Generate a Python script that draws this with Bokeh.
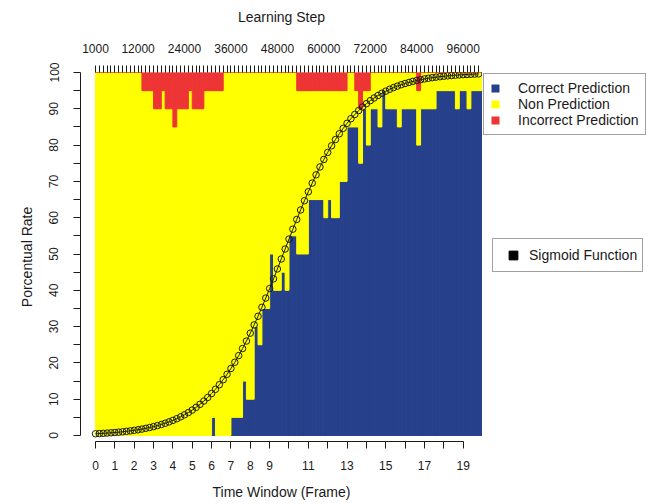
import numpy as np
from bokeh.plotting import figure
from bokeh.layouts import row
from bokeh.models import ColumnDataSource, Range1d, LinearAxis, FixedTicker, Legend, LegendItem
from bokeh.embed import file_html
from bokeh.resources import INLINE

# ---------------- data ----------------
frames = [round(0.2 * i, 1) for i in range(100)]   # time window (frame) of each bar

correct = [0] * 30 + [5, 0, 0, 0, 0, 5, 5, 5, 15, 10,
                      10, 30, 25, 35, 35, 50, 40, 40, 45, 40,
                      55, 55, 50, 50, 50, 65, 65, 65, 65, 60,
                      65, 60, 60, 70, 70, 85, 85, 85, 75, 90,
                      80, 90, 90, 85, 95, 90, 90, 90, 85, 90,
                      90, 90, 90, 80, 90, 90, 90, 90, 95, 95,
                      95, 95, 95, 90, 95, 95, 90, 95, 95, 95]

incorrect = [0] * 12 + [5, 5, 5, 10, 10, 5, 10, 10, 15, 10,
                        10, 10, 5, 10, 10, 10, 5, 5, 5, 5,
                        5] + [0] * 19 + [5] * 13 + [0, 0, 5, 10, 5, 5] + [0] * 12 + [5] + [0] * 16

sigmoid = [0.48, 0.54, 0.60, 0.67, 0.74, 0.83, 0.92, 1.03, 1.15, 1.28,
           1.43, 1.59, 1.77, 1.98, 2.20, 2.45, 2.73, 3.03, 3.37, 3.75,
           4.17, 4.63, 5.14, 5.71, 6.33, 7.01, 7.76, 8.59, 9.49, 10.48,
           11.56, 12.73, 14.00, 15.38, 16.87, 18.47, 20.18, 22.01, 23.96, 26.02,
           28.19, 30.47, 32.85, 35.32, 37.87, 40.49, 43.16, 45.88, 48.63, 51.37,
           54.12, 56.84, 59.51, 62.13, 64.68, 67.15, 69.53, 71.81, 73.98, 76.04,
           77.99, 79.82, 81.53, 83.13, 84.62, 86.00, 87.27, 88.44, 89.52, 90.51,
           91.41, 92.24, 92.99, 93.67, 94.29, 94.86, 95.37, 95.83, 96.25, 96.63,
           96.97, 97.27, 97.55, 97.80, 98.02, 98.23, 98.41, 98.57, 98.72, 98.85,
           98.97, 99.08, 99.17, 99.26, 99.33, 99.40, 99.46, 99.52, 99.57, 99.61]

frame_ticks = list(range(20))
frame_hidden = [10, 12, 14, 16, 18]
step_ticks = list(range(1000, 100001, 1000))
step_labels = [1000, 12000, 24000, 36000, 48000, 60000, 72000, 84000, 96000]
rate_ticks = list(range(0, 101, 5))

series_names = ["Correct Prediction", "Non Prediction", "Incorrect Prediction"]

BLUE = "#27408B"
YELLOW = "#FFFF00"
RED = "#EE3535"
INK = "#1a1a1a"
FONT = "Liberation Sans"

non = [100 - c - r for c, r in zip(correct, incorrect)]
src = ColumnDataSource(dict(x=[f + 0.1 for f in frames], correct=correct, non=non, incorrect=incorrect))

X0, X1 = -0.775, 20.0
p = figure(width=482, height=504, x_range=Range1d(X0, X1), y_range=Range1d(-1.65, 100),
           output_backend="svg", toolbar_location=None,
           x_axis_location=None, y_axis_location=None,
           min_border_left=80, min_border_right=0, min_border_top=72, min_border_bottom=63)
p.outline_line_color = None
p.xgrid.visible = False
p.ygrid.visible = False
p.background_fill_color = "white"

p.vbar_stack(["correct", "non", "incorrect"], x="x", width=0.2, color=[BLUE, YELLOW, RED],
             line_width=1, source=src)

p.line(frames, sigmoid, line_color=INK, line_width=1)
p.scatter(frames, sigmoid, marker="circle", size=6.5, fill_color=None, line_color=INK, line_width=1)

# ---------------- axes ----------------
p.extra_x_ranges = {"steps": Range1d(1000 + 5000 * X0, 1000 + 5000 * X1)}

ax_b = LinearAxis(ticker=FixedTicker(ticks=frame_ticks), bounds=(0, 19), axis_label="Time Window (Frame)")
ax_b.major_label_overrides = {t: ("" if t in frame_hidden else str(t)) for t in frame_ticks}
ax_b.major_label_standoff = 12
ax_b.axis_label_standoff = 11

ax_t = LinearAxis(x_range_name="steps", ticker=FixedTicker(ticks=step_ticks), axis_label="Learning Step")
ax_t.major_label_overrides = {t: (str(t) if t in step_labels else "") for t in step_ticks}
ax_t.axis_line_color = None
ax_t.major_label_standoff = 13
ax_t.axis_label_standoff = 16

ax_l = LinearAxis(ticker=FixedTicker(ticks=rate_ticks), bounds=(0, 100), axis_label="Porcentual Rate",
                  major_label_orientation="vertical")
ax_l.major_label_overrides = {t: ("" if t % 10 else str(t)) for t in rate_ticks}
ax_l.major_label_standoff = 15
ax_l.axis_label_standoff = 12

for ax in (ax_b, ax_t, ax_l):
    ax.major_label_text_font = FONT
    ax.major_label_text_font_size = "12px"
    ax.major_label_text_color = INK
    ax.axis_label_text_font = FONT
    ax.axis_label_text_font_size = "14px"
    ax.axis_label_text_font_style = "normal"
    ax.axis_label_text_color = INK
    ax.major_tick_out = 7
    ax.major_tick_in = 0
    ax.minor_tick_line_color = None
    ax.major_tick_line_color = INK
    if ax is not ax_t:
        ax.axis_line_color = INK

p.add_layout(ax_b, "below")
p.add_layout(ax_t, "above")
p.add_layout(ax_l, "left")

# ---------------- legend panel (right of the plot; its frame spans y 72..441) ----------------
q = figure(width=168, height=504, x_range=Range1d(0, 1), y_range=Range1d(0, 1),
           output_backend="svg", toolbar_location=None,
           x_axis_location=None, y_axis_location=None,
           min_border_left=0, min_border_right=0, min_border_top=72, min_border_bottom=63)
q.outline_line_color = None
q.xgrid.visible = False
q.ygrid.visible = False

NA = np.array([np.nan])   # legend-only proxies: one undrawable row so the legend swatch is rendered


def box_proxy(color):
    s = ColumnDataSource(dict(x=NA, top=NA))
    return q.vbar(x="x", top="top", width=1, source=s, fill_color=color, line_color=None)


def mark_proxy(color):
    s = ColumnDataSource(dict(x=NA, y=NA))
    return q.scatter("x", "y", source=s, marker="square", fill_color=color, line_color=color)


leg1 = Legend(items=[LegendItem(label=series_names[0], renderers=[box_proxy(BLUE)]),
                     LegendItem(label=series_names[1], renderers=[box_proxy(YELLOW)]),
                     LegendItem(label=series_names[2], renderers=[box_proxy(RED)])],
              location=(1, 306))
leg1.glyph_width = 10
leg1.glyph_height = 10
leg1.label_height = 16
leg1.padding = 6
leg1.spacing = 0
leg1.label_standoff = 18

leg2 = Legend(items=[LegendItem(label="Sigmoid Function", renderers=[mark_proxy("black")])],
              location=(10, 169))
leg2.glyph_width = 30
leg2.glyph_height = 22
leg2.label_height = 16
leg2.padding = 5
leg2.spacing = 0
leg2.label_standoff = 1

for lg in (leg1, leg2):
    lg.margin = 0
    lg.label_text_font = FONT
    lg.label_text_font_size = "14px"
    lg.label_text_color = INK
    lg.border_line_color = "#444444"
    lg.border_line_width = 1
    lg.background_fill_color = "white"
    lg.background_fill_alpha = 1.0
q.add_layout(leg1)
q.add_layout(leg2)

layout = row(p, q, spacing=0)
open("out.html", "w").write(file_html(layout, INLINE))
